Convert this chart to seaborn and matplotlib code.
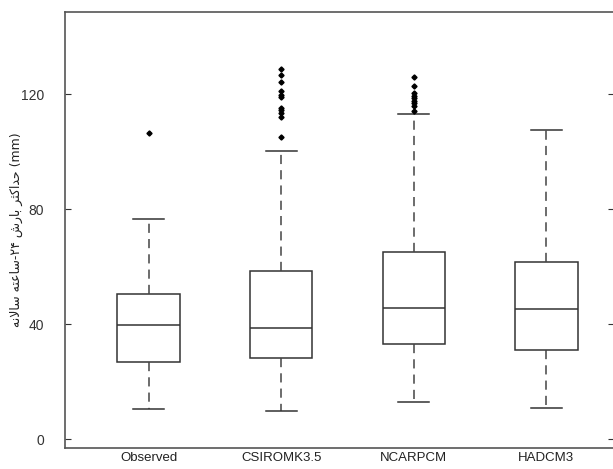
import re

import matplotlib

matplotlib.use("Agg")
import matplotlib.pyplot as plt
import pandas as pd
import seaborn as sns

models = ["Observed", "CSIROMK3.5", "NCARPCM", "HADCM3"]
q1 = [26.7, 28.1, 33.0, 31.0]
median = [39.7, 38.7, 45.5, 45.3]
q3 = [50.5, 58.5, 65.1, 61.7]
whisker_low = [10.4, 9.7, 13.0, 10.9]
whisker_high = [76.7, 100.3, 113.0, 107.6]
outliers_observed = [106.6]
outliers_csiro = [105.0, 112.0, 113.6, 114.4, 115.2, 119.0, 119.8, 121.1, 124.3, 126.7, 128.8]
outliers_ncar = [114.2, 115.9, 117.1, 117.8, 118.6, 119.4, 120.3, 122.9, 126.1]
outliers_hadcm3 = []
yticks = [0, 40, 80, 120]

ylabel_fa = "حداکثر بارش ۲۴-ساعته سالانه"

# isolated, final, initial, medial
FORMS = {
    "ا": ("\uFE8D", "\uFE8E", None, None),
    "ب": ("\uFE8F", "\uFE90", "\uFE91", "\uFE92"),
    "ت": ("\uFE95", "\uFE96", "\uFE97", "\uFE98"),
    "ث": ("\uFE99", "\uFE9A", "\uFE9B", "\uFE9C"),
    "ح": ("\uFEA1", "\uFEA2", "\uFEA3", "\uFEA4"),
    "د": ("\uFEA9", "\uFEAA", None, None),
    "ر": ("\uFEAD", "\uFEAE", None, None),
    "س": ("\uFEB1", "\uFEB2", "\uFEB3", "\uFEB4"),
    "ش": ("\uFEB5", "\uFEB6", "\uFEB7", "\uFEB8"),
    "ع": ("\uFEC9", "\uFECA", "\uFECB", "\uFECC"),
    "ک": ("\uFB8E", "\uFB8F", "\uFB90", "\uFB91"),
    "ل": ("\uFEDD", "\uFEDE", "\uFEDF", "\uFEE0"),
    "ن": ("\uFEE5", "\uFEE6", "\uFEE7", "\uFEE8"),
    "ه": ("\uFEE9", "\uFEEA", "\uFEEB", "\uFEEC"),
}


def joins_next(c):
    return c in FORMS and FORMS[c][2] is not None


def to_visual(text):
    # matplotlib has no arabic shaping, so pick the presentation forms by hand
    chars = list(text)
    out = []
    i = 0
    while i < len(chars):
        c = chars[i]
        if c not in FORMS:
            out.append(c)
            i += 1
            continue
        prev = chars[i - 1] if i > 0 else ""
        nxt = chars[i + 1] if i + 1 < len(chars) else ""
        link_prev = joins_next(prev)
        if c == "ل" and nxt == "ا":
            out.append("\uFEFC" if link_prev else "\uFEFB")
            i += 2
            continue
        link_next = joins_next(c) and nxt in FORMS
        iso, fin, ini, med = FORMS[c]
        if link_prev and link_next:
            out.append(med)
        elif link_prev:
            out.append(fin)
        elif link_next:
            out.append(ini)
        else:
            out.append(iso)
        i += 1
    runs = re.findall(r"[0-9\u06F0-\u06F9]+|[^0-9\u06F0-\u06F9]", "".join(out))
    return "".join(reversed(runs))


def main():
    outliers = [outliers_observed, outliers_csiro, outliers_ncar, outliers_hadcm3]
    rows = []
    for k, name in enumerate(models):
        extra = outliers[k]
        # sample whose quartiles / whiskers are the values
        values = (
            [whisker_low[k]] * (1 + len(extra))
            + [q1[k]] * 20
            + [median[k]] * 20
            + [q3[k]] * 20
            + [whisker_high[k]]
            + extra
        )
        rows += [{"model": name, "precip": v} for v in values]
    data = pd.DataFrame(rows)

    plt.rcParams["font.family"] = ["Liberation Sans", "DejaVu Sans"]
    fig = plt.figure(figsize=(6.13, 4.69), dpi=100)
    ax = fig.add_axes([65 / 613, 21 / 469, 549 / 613, 436 / 469])

    sns.boxplot(
        data,
        x="model",
        y="precip",
        order=models,
        width=0.47,
        color="white",
        linecolor="#333333",
        linewidth=1.1,
        whiskerprops={"linestyle": (0, (6, 4)), "color": "#444444"},
        capprops={"linestyle": "-", "color": "#333333"},
        flierprops={
            "marker": "D",
            "markersize": 2.6,
            "markerfacecolor": "black",
            "markeredgecolor": "black",
        },
        ax=ax,
    )

    ax.set_xlim(-0.63, 3.51)
    ax.set_ylim(-3.1, 148.6)
    ax.set_yticks(yticks)
    ax.set_xlabel("")
    ax.set_ylabel(
        to_visual(ylabel_fa) + " (mm)",
        family=["DejaVu Sans"],
        fontsize=9,
        color="#222222",
    )
    ax.yaxis.set_label_coords(-0.077, 0.5)
    ax.tick_params(axis="y", direction="in", length=4, pad=15, labelsize=10,
                   colors="#333333", right=True)
    ax.tick_params(axis="x", length=0, pad=3, labelsize=9.5, colors="#222222")
    for side in ax.spines.values():
        side.set_color("#555555")
        side.set_linewidth(1.2)

    plt.savefig("out.png", dpi=100)


if __name__ == "__main__":
    main()
